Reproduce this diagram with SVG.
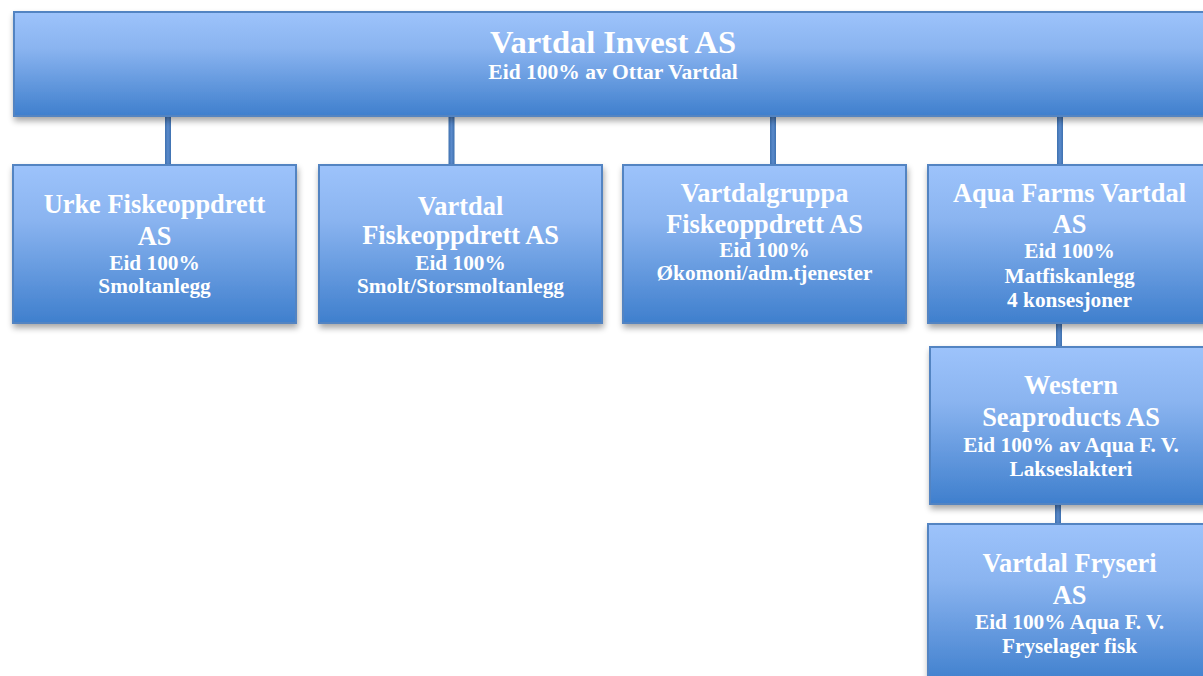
<svg xmlns="http://www.w3.org/2000/svg" width="1203" height="676" viewBox="0 0 1203 676">
<defs>
<linearGradient id="g" x1="0" y1="0" x2="0" y2="1">
<stop offset="0" stop-color="#9DC3FB"/>
<stop offset="0.35" stop-color="#8AB4F0"/>
<stop offset="1" stop-color="#3F7FCD"/>
</linearGradient>
<linearGradient id="gc" x1="0" y1="0" x2="1" y2="0">
<stop offset="0" stop-color="#3E71B0"/>
<stop offset="0.5" stop-color="#5A8ACB"/>
<stop offset="1" stop-color="#3E71B0"/>
</linearGradient>
<filter id="sh" x="-5%" y="-10%" width="115%" height="130%">
<feGaussianBlur in="SourceAlpha" stdDeviation="3"/>
<feOffset dx="1" dy="4" result="b"/>
<feComponentTransfer><feFuncA type="linear" slope="0.35"/></feComponentTransfer>
<feMerge><feMergeNode/><feMergeNode in="SourceGraphic"/></feMerge>
</filter>
</defs>
<style>
.box{fill:url(#g);stroke:#5384C2;stroke-width:2;filter:url(#sh)}
.conn{fill:url(#gc);stroke:none}
text{font-family:"Liberation Serif","Times New Roman",serif;font-weight:bold;fill:#FFFFFF;text-anchor:middle}
.t0{font-size:32.5px}
.s0{font-size:21.5px}
.t{font-size:26.4px}
.s{font-size:21.3px}
</style>
<rect width="1203" height="676" fill="#FFFFFF"/>
<g id="connectors">
<rect class="conn" x="165" y="114" width="6" height="52"/>
<rect class="conn" x="448.5" y="114" width="6" height="52"/>
<rect class="conn" x="770" y="114" width="6" height="52"/>
<rect class="conn" x="1057" y="114" width="6" height="52"/>
<rect class="conn" x="1056" y="321" width="6" height="27"/>
<rect class="conn" x="1055" y="502" width="6" height="23"/>
</g>
<g id="vartdal-invest">
<rect class="box" x="14" y="12" width="1198" height="104"/>
<text class="t0" x="613" y="53">Vartdal Invest AS</text>
<text class="s0" x="613" y="79">Eid 100% av Ottar Vartdal</text>
</g>
<g id="urke">
<rect class="box" x="13" y="165" width="283" height="158"/>
<text class="t" x="154.5" y="213">Urke Fiskeoppdrett</text>
<text class="t" x="154.5" y="245">AS</text>
<text class="s" x="154.5" y="270">Eid 100%</text>
<text class="s" x="154.5" y="293">Smoltanlegg</text>
</g>
<g id="vartdal-fiskeoppdrett">
<rect class="box" x="319" y="165" width="283" height="158"/>
<text class="t" x="460.5" y="215">Vartdal</text>
<text class="t" x="460.5" y="244">Fiskeoppdrett AS</text>
<text class="s" x="460.5" y="270">Eid 100%</text>
<text class="s" x="460.5" y="293">Smolt/Storsmoltanlegg</text>
</g>
<g id="vartdalgruppa">
<rect class="box" x="623" y="165" width="283" height="158"/>
<text class="t" x="764.5" y="202">Vartdalgruppa</text>
<text class="t" x="764.5" y="233">Fiskeoppdrett AS</text>
<text class="s" x="764.5" y="257">Eid 100%</text>
<text class="s" x="764.5" y="280">Økomoni/adm.tjenester</text>
</g>
<g id="aqua-farms">
<rect class="box" x="928" y="165" width="283" height="158"/>
<text class="t" x="1069.5" y="202">Aqua Farms Vartdal</text>
<text class="t" x="1069.5" y="233">AS</text>
<text class="s" x="1069.5" y="258">Eid 100%</text>
<text class="s" x="1069.5" y="283">Matfiskanlegg</text>
<text class="s" x="1069.5" y="307">4 konsesjoner</text>
</g>
<g id="western-seaproducts">
<rect class="box" x="930" y="347" width="283" height="157"/>
<text class="t" x="1071" y="394">Western</text>
<text class="t" x="1071" y="426">Seaproducts AS</text>
<text class="s" x="1071" y="452">Eid 100% av Aqua F. V.</text>
<text class="s" x="1071" y="476">Lakseslakteri</text>
</g>
<g id="vartdal-fryseri">
<rect class="box" x="928" y="524" width="283" height="160"/>
<text class="t" x="1069.5" y="572">Vartdal Fryseri</text>
<text class="t" x="1069.5" y="604">AS</text>
<text class="s" x="1069.5" y="629">Eid 100% Aqua F. V.</text>
<text class="s" x="1069.5" y="653">Fryselager fisk</text>
</g>
</svg>
